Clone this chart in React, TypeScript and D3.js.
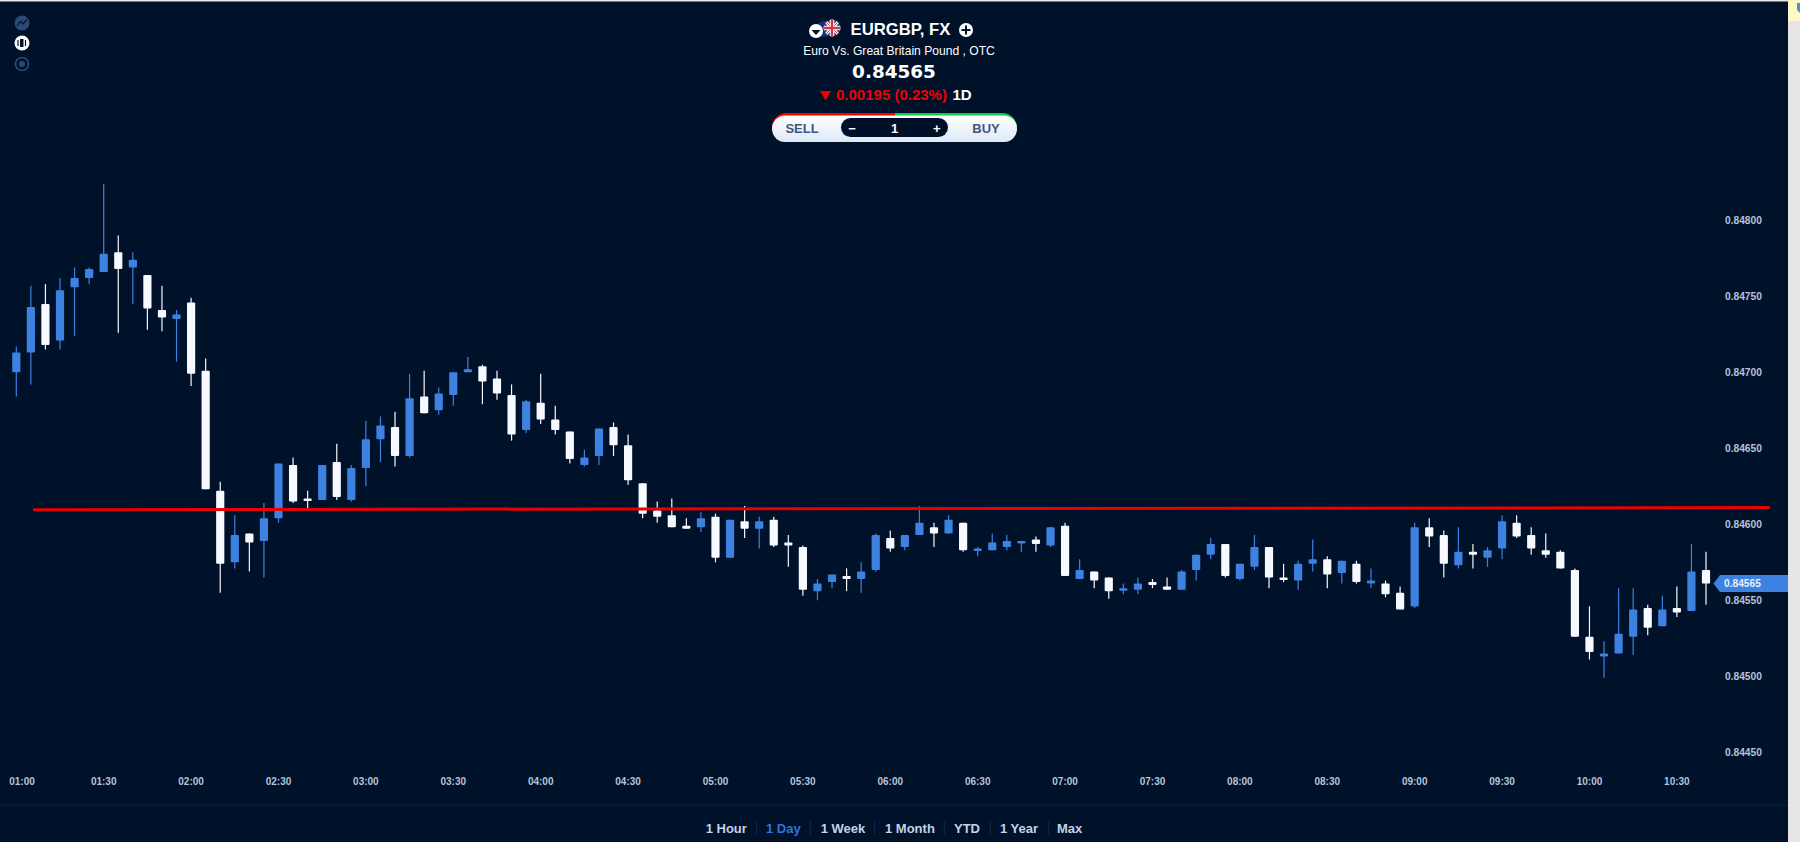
import React from 'react'
import * as d3 from 'd3'

const WIDTH = 1800
const HEIGHT = 842

// one candle every 5 minutes from 01:00, white = falling, blue = rising
const opens = [
  0.84700, 0.84713, 0.84745, 0.84721, 0.84756, 0.84762, 0.84766, 0.84779, 0.84769, 0.84764,
  0.84741, 0.84735, 0.84746, 0.84701, 0.84622, 0.84575, 0.84594, 0.84589, 0.84604, 0.84639,
  0.84617, 0.84616, 0.84641, 0.84616, 0.84637, 0.84656, 0.84664, 0.84645, 0.84684, 0.84675,
  0.84685, 0.84700, 0.84704, 0.84696, 0.84685, 0.84662, 0.84680, 0.84669, 0.84661, 0.84639,
  0.84645, 0.84664, 0.84652, 0.84627, 0.84609, 0.84606, 0.84599, 0.84598, 0.84605, 0.84578,
  0.84602, 0.84597, 0.84603, 0.84588, 0.84585, 0.84556, 0.84562, 0.84566, 0.84564, 0.84570,
  0.84591, 0.84585, 0.84593, 0.84598, 0.84594, 0.84601, 0.84583, 0.84583, 0.84585, 0.84588,
  0.84590, 0.84586, 0.84599, 0.84564, 0.84569, 0.84565, 0.84557, 0.84557, 0.84562, 0.84559,
  0.84557, 0.84570, 0.84580, 0.84587, 0.84564, 0.84572, 0.84585, 0.84565, 0.84563, 0.84574,
  0.84577, 0.84568, 0.84574, 0.84561, 0.84561, 0.84555, 0.84546, 0.84598, 0.84593, 0.84573,
  0.84582, 0.84578, 0.84584, 0.84601, 0.84593, 0.84583, 0.84582, 0.84570, 0.84526, 0.84513,
  0.84515, 0.84526, 0.84545, 0.84533, 0.84545, 0.84543, 0.84570,
]
const closes = [
  0.84713, 0.84743, 0.84718, 0.84754, 0.84762, 0.84768, 0.84778, 0.84768, 0.84774, 0.84742,
  0.84736, 0.84738, 0.84699, 0.84623, 0.84574, 0.84593, 0.84588, 0.84604, 0.84640, 0.84615,
  0.84616, 0.84639, 0.84618, 0.84637, 0.84656, 0.84665, 0.84645, 0.84683, 0.84673, 0.84686,
  0.84700, 0.84702, 0.84694, 0.84686, 0.84659, 0.84681, 0.84669, 0.84662, 0.84643, 0.84644,
  0.84663, 0.84652, 0.84629, 0.84607, 0.84605, 0.84598, 0.84597, 0.84604, 0.84578, 0.84603,
  0.84597, 0.84602, 0.84586, 0.84586, 0.84557, 0.84561, 0.84567, 0.84564, 0.84569, 0.84593,
  0.84584, 0.84593, 0.84601, 0.84594, 0.84603, 0.84583, 0.84584, 0.84588, 0.84589, 0.84589,
  0.84587, 0.84598, 0.84566, 0.84570, 0.84563, 0.84556, 0.84558, 0.84561, 0.84560, 0.84557,
  0.84569, 0.84580, 0.84587, 0.84566, 0.84574, 0.84585, 0.84565, 0.84564, 0.84574, 0.84577,
  0.84567, 0.84576, 0.84562, 0.84563, 0.84554, 0.84544, 0.84598, 0.84592, 0.84574, 0.84582,
  0.84580, 0.84583, 0.84602, 0.84592, 0.84584, 0.84580, 0.84571, 0.84526, 0.84516, 0.84515,
  0.84528, 0.84544, 0.84532, 0.84544, 0.84542, 0.84569, 0.84561,
]
const highs = [
  0.84717, 0.84757, 0.84758, 0.84762, 0.84769, 0.84769, 0.84824, 0.84790, 0.84779, 0.84764,
  0.84757, 0.84741, 0.84749, 0.84709, 0.84628, 0.84606, 0.84594, 0.84614, 0.84640, 0.84644,
  0.84622, 0.84639, 0.84653, 0.84639, 0.84668, 0.84671, 0.84674, 0.84699, 0.84701, 0.84690,
  0.84700, 0.84710, 0.84705, 0.84701, 0.84692, 0.84682, 0.84699, 0.84678, 0.84661, 0.84649,
  0.84663, 0.84667, 0.84659, 0.84627, 0.84615, 0.84617, 0.84604, 0.84608, 0.84607, 0.84603,
  0.84612, 0.84605, 0.84605, 0.84593, 0.84586, 0.84564, 0.84567, 0.84571, 0.84575, 0.84594,
  0.84596, 0.84593, 0.84612, 0.84601, 0.84606, 0.84601, 0.84585, 0.84594, 0.84593, 0.84589,
  0.84592, 0.84598, 0.84601, 0.84577, 0.84569, 0.84565, 0.84561, 0.84565, 0.84564, 0.84565,
  0.84570, 0.84580, 0.84591, 0.84587, 0.84574, 0.84593, 0.84585, 0.84574, 0.84576, 0.84590,
  0.84579, 0.84576, 0.84576, 0.84571, 0.84563, 0.84559, 0.84601, 0.84604, 0.84596, 0.84598,
  0.84587, 0.84585, 0.84606, 0.84606, 0.84598, 0.84594, 0.84583, 0.84571, 0.84546, 0.84523,
  0.84558, 0.84558, 0.84547, 0.84553, 0.84559, 0.84587, 0.84582,
]
const lows = [
  0.84684, 0.84692, 0.84715, 0.84715, 0.84724, 0.84758, 0.84766, 0.84726, 0.84745, 0.84728,
  0.84727, 0.84707, 0.84691, 0.84623, 0.84555, 0.84571, 0.84569, 0.84565, 0.84601, 0.84614,
  0.84609, 0.84616, 0.84616, 0.84615, 0.84625, 0.84641, 0.84638, 0.84644, 0.84673, 0.84672,
  0.84678, 0.84700, 0.84679, 0.84682, 0.84655, 0.84660, 0.84666, 0.84659, 0.84640, 0.84638,
  0.84639, 0.84645, 0.84626, 0.84604, 0.84601, 0.84598, 0.84597, 0.84595, 0.84575, 0.84578,
  0.84591, 0.84584, 0.84585, 0.84572, 0.84553, 0.84550, 0.84558, 0.84556, 0.84555, 0.84569,
  0.84582, 0.84583, 0.84593, 0.84585, 0.84594, 0.84582, 0.84579, 0.84583, 0.84583, 0.84582,
  0.84582, 0.84585, 0.84566, 0.84564, 0.84558, 0.84551, 0.84554, 0.84554, 0.84558, 0.84557,
  0.84557, 0.84563, 0.84577, 0.84565, 0.84563, 0.84570, 0.84558, 0.84562, 0.84557, 0.84569,
  0.84558, 0.84561, 0.84561, 0.84558, 0.84552, 0.84544, 0.84545, 0.84585, 0.84565, 0.84571,
  0.84571, 0.84572, 0.84577, 0.84591, 0.84580, 0.84578, 0.84571, 0.84526, 0.84511, 0.84499,
  0.84515, 0.84514, 0.84527, 0.84533, 0.84539, 0.84543, 0.84547,
]

const timeLabels = [
  '01:00', '01:30', '02:00', '02:30', '03:00', '03:30', '04:00', '04:30', '05:00', '05:30', '06:00',
  '06:30', '07:00', '07:30', '08:00', '08:30', '09:00', '09:30', '10:00', '10:30',
]
const priceTicks = [0.848, 0.8475, 0.847, 0.8465, 0.846, 0.8455, 0.845, 0.8445]
const ranges = ['1 Hour', '1 Day', '1 Week', '1 Month', 'YTD', '1 Year', 'Max']
const rangeX = [705.7, 766, 820.7, 885, 954, 1000, 1057]
const rangeSeparators = [756.7, 810.3, 874.7, 944.3, 990.3, 1048.3]

const lastPrice = 0.84565
const levelStart = 0.846096
const levelEnd = 0.84611

const BG = '#00112a'
const BLUE = '#3d82e0'
const WHITE = '#f6f9ff'
const SANS = '"Liberation Sans", Arial, sans-serif'

const App = () => {
  const x = d3.scaleLinear().domain([0, opens.length - 1]).range([16.3, 1706])
  const y = d3.scaleLinear().domain([0.845, 0.846]).range([676.3, 524.3])
  const bodyWidth = 8.2

  const candles = opens.map((o, i) => {
    const c = closes[i]
    const up = c >= o
    const top = y(Math.max(o, c))
    const bottom = y(Math.min(o, c))
    const color = up ? BLUE : WHITE
    return (
      <g key={'candle' + i}>
        <line x1={x(i)} x2={x(i)} y1={y(highs[i])} y2={y(lows[i])} stroke={color} strokeWidth={1.2} />
        <rect
          x={x(i) - bodyWidth / 2}
          y={top}
          width={bodyWidth}
          height={Math.max(bottom - top, 2.5)}
          rx={1}
          fill={color}
        />
      </g>
    )
  })

  const lastY = y(closes[closes.length - 1])

  return (
    <svg
      width={WIDTH}
      height={HEIGHT}
      style={{ position: 'absolute', left: 0, top: 0, display: 'block' }}
      fontFamily={SANS}
    >
      <rect width={WIDTH} height={HEIGHT} fill="#e6e6e6" />
      <rect y={1.5} width={1788} height={HEIGHT} fill={BG} />
      {/* browser notification strip in the corner */}
      <rect x={1788} y={0} width={12} height={21} fill="#fdf8c4" />
      <path d="M1797 3 H1800 V13 L1797 10 Z" fill="#4f8fd8" />

      {/* side toolbar */}
      <circle cx={22} cy={23} r={7.5} fill="#2c4a73" />
      <path d="M17 26 L20.5 21.5 L23 24 L27 19.5" fill="none" stroke={BG} strokeWidth={1.2} />
      <circle cx={22} cy={43} r={7.5} fill="#fff" />
      <rect x={20} y={39} width={3.5} height={8} fill={BG} />
      <line x1={18} x2={18} y1={40} y2={46} stroke={BG} strokeWidth={1.2} />
      <line x1={25.5} x2={25.5} y1={40} y2={46} stroke={BG} strokeWidth={1.2} />
      <circle cx={22} cy={64} r={6.5} fill="none" stroke="#2c4a73" strokeWidth={1.6} />
      <circle cx={22} cy={64} r={3} fill="#2c4a73" />

      {/* header */}
      <circle cx={824} cy={29} r={8} fill="#0c2f7a" />
      <g>
        <clipPath id="flag"><circle cx={832} cy={28} r={8.5} /></clipPath>
        <g clipPath="url(#flag)">
          <rect x={823} y={19} width={18} height={18} fill="#27408b" />
          <path d="M823 19 L841 37 M841 19 L823 37" stroke="#fff" strokeWidth={3} />
          <path d="M823 19 L841 37 M841 19 L823 37" stroke="#d8344a" strokeWidth={1} />
          <path d="M832 19 V37 M823 28 H841" stroke="#fff" strokeWidth={4.5} />
          <path d="M832 19 V37 M823 28 H841" stroke="#d8344a" strokeWidth={2.5} />
        </g>
      </g>
      <circle cx={816} cy={31} r={7} fill="#fff" />
      <path d="M811.5 30 H820.5 L816 35 Z" fill={BG} />
      <text x={900.5} y={35} textAnchor="middle" fontSize={16.7} fontWeight="bold" fill="#fff">EURGBP, FX</text>
      <circle cx={966} cy={30} r={7} fill="#fff" />
      <path d="M961.5 30 H970.5 M966 25.5 V34.5" stroke={BG} strokeWidth={2} />
      <text x={899} y={55} textAnchor="middle" fontSize={12.1} fill="#fff">Euro Vs. Great Britain Pound , OTC</text>
      <text
        x={894}
        y={78}
        textAnchor="middle"
        fontSize={18.4}
        fontWeight="bold"
        fontFamily='"DejaVu Sans", sans-serif'
        fill="#fff"
      >
        0.84565
      </text>
      <path d="M820 91 H831 L825.5 100.5 Z" fill="#f00000" />
      <text x={836} y={100} fontSize={15} fontWeight="bold" fill="#f00000">0.00195 (0.23%)</text>
      <text x={952.5} y={100} fontSize={15} fontWeight="bold" fill="#fff">1D</text>

      {/* sell / buy pill */}
      <defs>
        <linearGradient id="pill" x1="0" x2="0" y1="0" y2="1">
          <stop offset="0" stopColor="#ffffff" />
          <stop offset="1" stopColor="#dfe8f6" />
        </linearGradient>
        <clipPath id="pillLeft"><rect x={770} y={110} width={125} height={36} /></clipPath>
        <clipPath id="pillRight"><rect x={895} y={110} width={125} height={36} /></clipPath>
      </defs>
      <rect x={772} y={113} width={245} height={29} rx={14.5} fill="#ff0000" clipPath="url(#pillLeft)" />
      <rect x={772} y={113} width={245} height={29} rx={14.5} fill="#15c94a" clipPath="url(#pillRight)" />
      <rect x={772} y={115.5} width={245} height={26.5} rx={13.2} fill="url(#pill)" />
      <rect x={841} y={118} width={107} height={19} rx={9.5} fill="#001029" />
      <text x={802} y={133} textAnchor="middle" fontSize={13} fontWeight="bold" fill="#3f5680">SELL</text>
      <text x={986} y={133} textAnchor="middle" fontSize={13} fontWeight="bold" fill="#3f5680">BUY</text>
      <text x={852} y={133} textAnchor="middle" fontSize={13} fontWeight="bold" fill="#fff">−</text>
      <text x={894.7} y={133} textAnchor="middle" fontSize={13} fontWeight="bold" fill="#fff">1</text>
      <text x={936.7} y={133} textAnchor="middle" fontSize={13} fontWeight="bold" fill="#fff">+</text>

      {/* candles */}
      {candles}

      {/* level line */}
      <line
        x1={33}
        x2={1770}
        y1={y(levelStart)}
        y2={y(levelEnd)}
        stroke="#ea0000"
        strokeWidth={3}
      />

      {/* price axis */}
      {priceTicks.map(d => (
        <text key={d} x={1725} y={y(d)} dy="0.35em" fontSize={10.2} fontWeight="bold" fill="#b4c4d8">
          {d3.format('.5f')(d)}
        </text>
      ))}
      <path
        d={`M1713.5 ${lastY} L1720 ${lastY - 8.5} H1788 V${lastY + 8.5} H1720 Z`}
        fill={BLUE}
      />
      <text x={1724} y={lastY} dy="0.35em" fontSize={10.2} fontWeight="bold" fill="#e8f0ff">
        {d3.format('.5f')(lastPrice)}
      </text>

      {/* time axis */}
      {timeLabels.map((d, i) => (
        <text
          key={d}
          x={Math.max(x(i * 6), 22)}
          y={781.5}
          dy="0.35em"
          textAnchor="middle"
          fontSize={10}
          fontWeight="bold"
          fill="#b4c4d8"
        >
          {d}
        </text>
      ))}
      <line x1={0} x2={1788} y1={805} y2={805} stroke="#0b2545" strokeWidth={1} />

      {/* range selector */}
      {ranges.map((d, i) => (
        <text
          key={d}
          x={rangeX[i]}
          y={832.5}
          fontSize={13}
          fontWeight="bold"
          fill={d === '1 Day' ? '#2f74d6' : '#c4d2e4'}
        >
          {d}
        </text>
      ))}
      {rangeSeparators.map(d => (
        <line key={d} x1={d} x2={d} y1={821} y2={835} stroke="#12294a" strokeWidth={1} />
      ))}
    </svg>
  )
}

export default App
